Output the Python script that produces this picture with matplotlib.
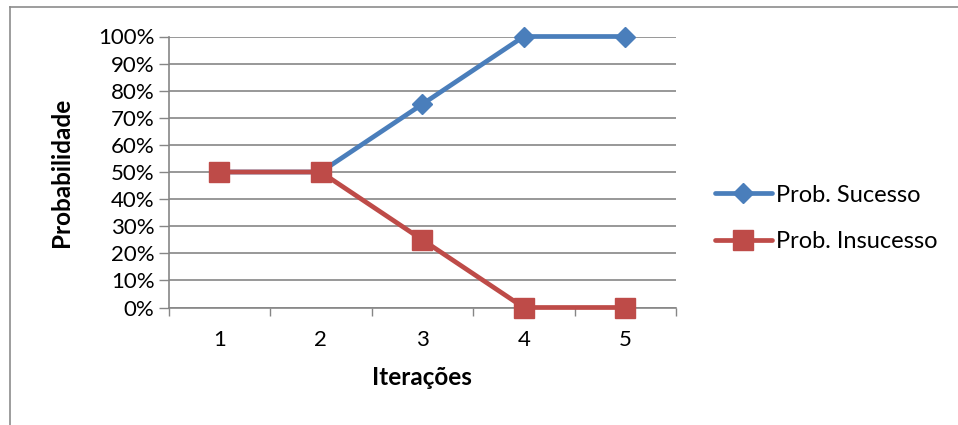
import numpy as np
import matplotlib.pyplot as plt
from matplotlib.lines import Line2D
from matplotlib.ticker import FixedLocator

plt.rcParams['font.family'] = ['Lato', 'DejaVu Sans']

iteracoes = [1, 2, 3, 4, 5]
prob_sucesso = [50, 50, 75, 100, 100]
prob_insucesso = [50, 50, 25, 0, 0]
yticks = np.arange(0, 101, 10)

blue = '#4A7EBB'
red = '#BE4B48'
grey = '#868686'

fig = plt.figure(figsize=(9.58, 4.25), dpi=100)
ax = fig.add_axes([168.5/958, 1-307.5/425, (676-168.5)/958, (307.5-36.5)/425])

x = np.array(iteracoes)
ax.plot(x, prob_sucesso, color=blue, lw=3.4, marker='D', ms=10, mfc=blue, mec=blue,
        label='Prob. Sucesso', zorder=3, solid_capstyle='round', clip_on=False)
ax.plot(x, prob_insucesso, color=red, lw=3.4, marker='s', ms=14.5, mfc=red, mec=red,
        label='Prob. Insucesso', zorder=4, solid_capstyle='round', clip_on=False)

ax.set_xlim(0.5, 5.5)
ax.set_ylim(0, 100)
ax.set_yticks(yticks)
ax.set_yticklabels(['{:d}%'.format(v) for v in yticks], fontsize=16)
ax.set_xticks(x)
ax.set_xticklabels([str(v) for v in iteracoes], fontsize=16)
ax.xaxis.set_minor_locator(FixedLocator(np.arange(0.5, 5.6, 1)))
ax.tick_params(axis='x', which='major', length=0, pad=16)
ax.tick_params(axis='x', which='minor', length=6, width=1, color=grey, direction='out')
ax.tick_params(axis='y', length=7, width=1, color=grey, direction='out', pad=3)

ax.grid(axis='y', color=grey, lw=1.2)
ax.set_axisbelow(True)
for s in ['top', 'right']:
    ax.spines[s].set_visible(False)
for s in ['left', 'bottom']:
    ax.spines[s].set_color(grey)
    ax.spines[s].set_linewidth(1.2)

ax.set_ylabel('Probabilidade', fontsize=17.5, fontweight='bold', labelpad=18)
ax.set_xlabel('Iterações', fontsize=17.5, fontweight='bold', labelpad=12)

fig.legend(loc='center left', bbox_to_anchor=(715/958, 1-218.5/425), frameon=False,
           fontsize=17, handlelength=2.4, handletextpad=0.2, labelspacing=1.1,
           borderpad=0, borderaxespad=0)

# chart frame
fig.add_artist(Line2D([9.5/958, 9.5/958], [0, 1-6.5/425], color='#8C8C8C', lw=1.2,
                      transform=fig.transFigure))
fig.add_artist(Line2D([9.5/958, 1], [1-6.5/425, 1-6.5/425], color='#8C8C8C', lw=1.2,
                      transform=fig.transFigure))

fig.savefig('out.png', dpi=100)
